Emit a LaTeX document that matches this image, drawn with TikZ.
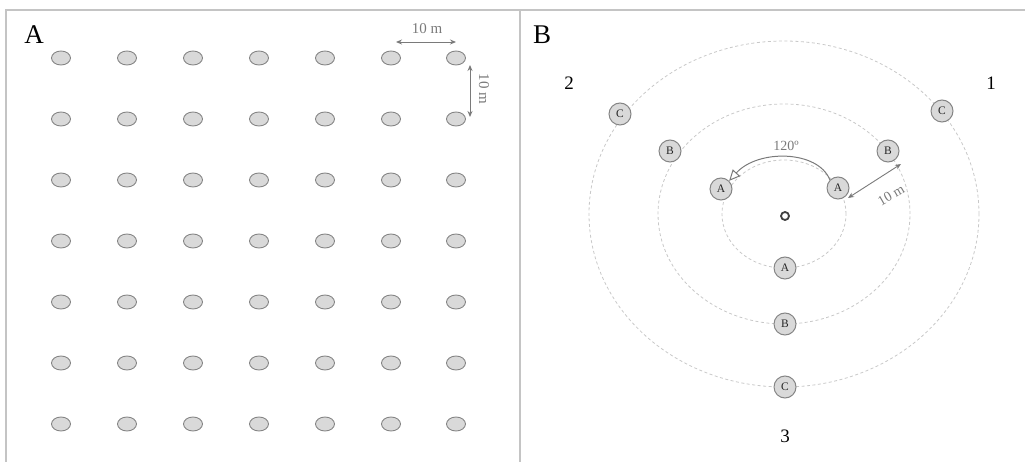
\documentclass[tikz,border=0pt]{standalone}
\usepackage{fontspec}
\setmainfont{Liberation Serif}
\usetikzlibrary{arrows.meta}
\definecolor{framegray}{HTML}{C4C4C4}
\definecolor{dotfill}{HTML}{D9D9D9}
\definecolor{dotline}{HTML}{858585}
\definecolor{dimgray}{HTML}{7A7A7A}
\definecolor{ringgray}{HTML}{C8C8C8}
\tikzset{
  frameline/.style={draw=framegray, line width=1.5pt},
  plant/.style={ellipse, draw=dotline, fill=dotfill, line width=0.9pt, minimum width=19pt, minimum height=14pt, inner sep=0pt},
  sampler/.style={circle, draw=dotline, fill=dotfill, line width=1pt, minimum size=22pt, inner sep=0pt, font=\fontsize{11.5}{11.5}\selectfont, text=black!85},
  dimarrow/.style={draw=dimgray, line width=0.9pt, {Stealth[length=6pt,width=5pt]}-{Stealth[length=6pt,width=5pt]}},
  dimtext/.style={text=dimgray, font=\fontsize{15}{15}\selectfont, inner sep=0pt},
  panellabel/.style={font=\fontsize{27}{27}\selectfont, inner sep=0pt},
  dirlabel/.style={font=\fontsize{19}{19}\selectfont, inner sep=0pt},
  ringline/.style={draw=ringgray, line width=0.8pt, dash pattern=on 3pt off 2.5pt},
}
\usetikzlibrary{shapes.geometric}
\begin{document}
\begin{tikzpicture}[x=1pt,y=-1pt]
\useasboundingbox (0,0) rectangle (1025,462);
% frame
\draw[frameline] (6,462) -- (6,10) -- (1025,10);
\draw[frameline] (520,10) -- (520,462);
% panel labels
\node[panellabel] (labA) at (34,35) {A};
\node[panellabel] (labB) at (542,35) {B};
% grid of plants
\foreach \i/\x in {1/61,2/127,3/193,4/259,5/325,6/391,7/456}{
  \foreach \j/\y in {1/58,2/119,3/180,4/241,5/302,6/363,7/424}{
    \node[plant] (p\i-\j) at (\x,\y) {};
  }
}
% dimension arrows
\coordinate (hL) at (396,42);
\coordinate (hR) at (456,42);
\draw[dimarrow] (hL) -- (hR);
\node[dimtext] (hT) at (427,29) {10 m};
\coordinate (vT) at (470,65);
\coordinate (vB) at (470,117);
\draw[dimarrow] (vT) -- (vB);
\node[dimtext, rotate=-90] (vTx) at (484,89) {10 m};
% rings
\coordinate (ctr) at (784,214);
\draw[ringline] (ctr) ellipse [x radius=62pt, y radius=54pt];
\draw[ringline] (ctr) ellipse [x radius=126pt, y radius=110pt];
\draw[ringline] (ctr) ellipse [x radius=195pt, y radius=173pt];
\node[circle, draw=black!75, line width=1.8pt, minimum size=8pt, inner sep=0pt] (center) at (785,216) {};
% samplers
\node[sampler] (A1) at (838,188) {A};
\node[sampler] (A2) at (721,189) {A};
\node[sampler] (A3) at (785,268) {A};
\node[sampler] (B1) at (888,151) {B};
\node[sampler] (B2) at (670,151) {B};
\node[sampler] (B3) at (785,324) {B};
\node[sampler] (C1) at (942,111) {C};
\node[sampler] (C2) at (620,114) {C};
\node[sampler] (C3) at (785,387) {C};
% direction labels
\node[dirlabel] (d1) at (991,83) {1};
\node[dirlabel] (d2) at (569,83) {2};
\node[dirlabel] (d3) at (785,436) {3};
% 120 degree arc
\draw[draw=dimgray, line width=1pt, -{Triangle[open, length=11pt, width=10pt]}] (A1.north west) .. controls (818,150) and (758,149) .. (A2.north east);
\node[dimtext, font=\fontsize{14}{14}\selectfont] (ang) at (786,146) {120º};
% radial 10 m
\coordinate (rA) at (848,198);
\coordinate (rB) at (901,164);
\draw[dimarrow] (rA) -- (rB);
\node[dimtext, rotate=30, font=\fontsize{14}{14}\selectfont] (rT) at (891,195) {10 m};
\end{tikzpicture}
\end{document}
